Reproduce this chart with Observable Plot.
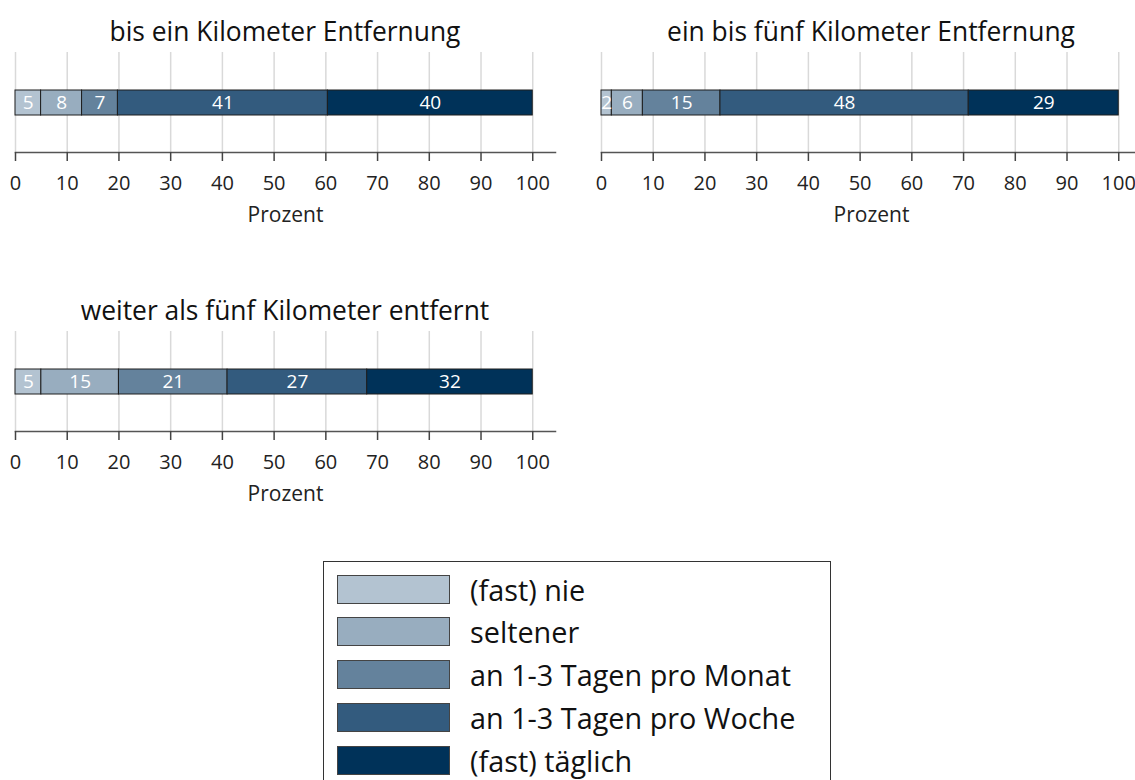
<!DOCTYPE html>
<html>
<head>
<meta charset="utf-8">
<script src="https://cdn.jsdelivr.net/npm/d3@7"></script>
<script src="https://cdn.jsdelivr.net/npm/@observablehq/plot@0.6"></script>
<style>
  html, body { margin: 0; padding: 0; background: #fff; overflow: hidden; }
  body { width: 1135px; height: 780px; position: relative; font-family: "Open Sans", "Noto Sans", sans-serif; }
  .panel { position: absolute; width: 560px; height: 240px; }
  .title { position: absolute; left: 15px; width: 540px; top: 14px; text-align: center; font-size: 26.4px; line-height: 34px; color: #111; white-space: nowrap; }
  .panel svg { position: absolute; left: 0; top: 0; overflow: visible; }
  .legend { position: absolute; left: 323px; top: 561px; width: 508px; height: 240px; border: 1.5px solid #333; box-sizing: border-box; }
  .legend .row { position: absolute; left: 13px; height: 30px; display: flex; align-items: center; }
  .legend .sw { width: 113px; height: 29px; box-sizing: border-box; border: 1.5px solid #444; }
  .legend .lb { margin-left: 20px; font-size: 28.8px; color: #111; white-space: nowrap; }
</style>
</head>
<body>
<script>
// Data
const panels = ["bis ein Kilometer Entfernung", "ein bis fünf Kilometer Entfernung", "weiter als fünf Kilometer entfernt"];
const categories = ["(fast) nie", "seltener", "an 1-3 Tagen pro Monat", "an 1-3 Tagen pro Woche", "(fast) täglich"];
const colors = ["#b3c3d1", "#98adbf", "#64829c", "#335b7e", "#003259"];
const valuesPanel1 = [5, 8, 7, 41, 40];
const valuesPanel2 = [2, 6, 15, 48, 29];
const valuesPanel3 = [5, 15, 21, 27, 32];
const tickValues = [0, 10, 20, 30, 40, 50, 60, 70, 80, 90, 100];
const axisLabel = "Prozent";

const allValues = [valuesPanel1, valuesPanel2, valuesPanel3];
const positions = [{left: 0, top: 0}, {left: 586, top: 0}, {left: 0, top: 279}];

panels.forEach((name, i) => {
  const vals = allValues[i];
  const total = d3.sum(vals);
  const data = vals.map((v, j) => ({panel: name, cat: categories[j], value: v / total * 100, label: String(v)}));
  const div = document.createElement("div");
  div.className = "panel";
  div.style.left = positions[i].left + "px";
  div.style.top = positions[i].top + "px";
  const t = document.createElement("div");
  t.className = "title";
  t.textContent = name;
  div.appendChild(t);
  const chart = Plot.plot({
    width: 560,
    height: 240,
    marginLeft: 15,
    marginRight: 5,
    marginTop: 52,
    marginBottom: 88,
    style: {fontFamily: "Open Sans, Noto Sans, sans-serif", background: "transparent", overflow: "visible"},
    x: {domain: [0, 104.4]},
    y: {domain: [name], paddingInner: 0, paddingOuter: 1.5, axis: null},
    color: {domain: categories, range: colors},
    marks: [
      Plot.gridX(tickValues, {stroke: "#d9d9d9", strokeOpacity: 1, strokeWidth: 1.5}),
      Plot.barX(data, Plot.stackX({x: "value", y: "panel", fill: "cat", stroke: "#1e1e1e", strokeWidth: 1, order: null})),
      Plot.text(data, Plot.stackX({x: "value", y: "panel", text: "label", fill: "white", fontSize: 19, order: null})),
      Plot.frame({anchor: "bottom", stroke: "#555", strokeWidth: 1.5}),
      Plot.axisX(tickValues, {anchor: "bottom", tickSize: 9, tickPadding: 14, fontSize: 20, fill: "#222", stroke: "#444", strokeWidth: 1.5, label: axisLabel, labelAnchor: "center", labelOffset: 69, labelArrow: "none"})
    ]
  });
  // enlarge the axis label slightly
  chart.querySelectorAll("text").forEach(el => { if (el.textContent === axisLabel) el.setAttribute("font-size", "21"); });
  div.appendChild(chart);
  document.body.appendChild(div);
});

// Legend
const legend = document.createElement("div");
legend.className = "legend";
categories.forEach((c, j) => {
  const row = document.createElement("div");
  row.className = "row";
  row.style.top = (12 + j * 42.8) + "px";
  const sw = document.createElement("div");
  sw.className = "sw";
  sw.style.background = colors[j];
  const lb = document.createElement("div");
  lb.className = "lb";
  lb.textContent = c;
  row.appendChild(sw);
  row.appendChild(lb);
  legend.appendChild(row);
});
document.body.appendChild(legend);
</script>
</body>
</html>
